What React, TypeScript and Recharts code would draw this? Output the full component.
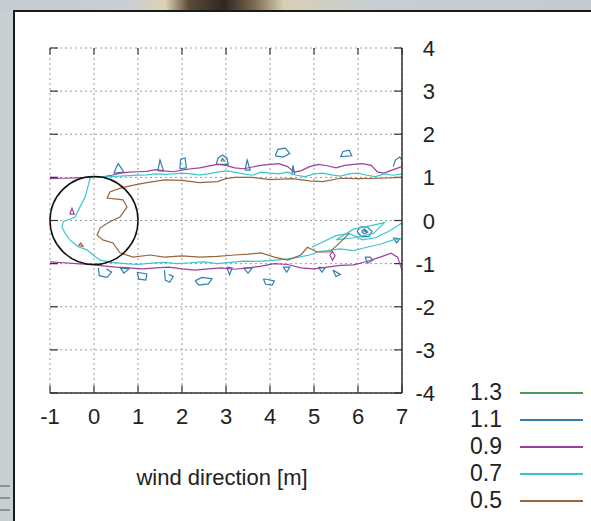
import React from 'react'
import { LineChart, Line, XAxis, YAxis, CartesianGrid, ReferenceDot, ReferenceLine } from 'recharts'

type Pt = [number, number]

const xTicks = [-1, 0, 1, 2, 3, 4, 5, 6, 7]
const yTicks = [-4, -3, -2, -1, 0, 1, 2, 3, 4]

const levels = ['1.3', '1.1', '0.9', '0.7', '0.5']
const levelColors = ['#4a9a5c', '#2f7fae', '#9c3f9e', '#3cc6cc', '#97653d']

// 0.9 contour
const purpleUpper: Pt[] = [
  [-1, 0.97], [-0.7, 0.98], [-0.4, 0.99], [-0.1, 1.0], [0.2, 1.01], [0.4, 1.05], [0.6, 1.1], [0.8, 1.12],
  [1.0, 1.13], [1.2, 1.14], [1.4, 1.18], [1.6, 1.15], [1.8, 1.13], [2.0, 1.17], [2.2, 1.2], [2.4, 1.22],
  [2.6, 1.26], [2.8, 1.3], [3.0, 1.28], [3.2, 1.22], [3.4, 1.2], [3.6, 1.24], [3.8, 1.28], [4.0, 1.3],
  [4.2, 1.32], [4.4, 1.25], [4.55, 1.12], [4.7, 1.15], [4.9, 1.25], [5.1, 1.3], [5.3, 1.27], [5.5, 1.22],
  [5.7, 1.28], [5.9, 1.3], [6.1, 1.32], [6.3, 1.28], [6.45, 1.12], [6.6, 1.1], [6.8, 1.18], [7, 1.25],
]
const purpleLower: Pt[] = [
  [-1, -0.96], [-0.7, -0.98], [-0.4, -1.0], [-0.1, -1.02], [0.2, -1.05], [0.5, -1.08], [0.8, -1.1],
  [1.1, -1.12], [1.4, -1.1], [1.7, -1.08], [2.0, -1.12], [2.3, -1.15], [2.6, -1.12], [2.9, -1.1],
  [3.2, -1.13], [3.5, -1.1], [3.8, -1.06], [4.1, -1.0], [4.4, -1.02], [4.7, -1.1], [5.0, -1.12],
  [5.3, -1.08], [5.6, -1.04], [5.9, -1.03], [6.2, -0.95], [6.5, -0.85], [6.75, -0.76], [6.9, -0.85],
  [6.95, -1.0], [7, -1.15],
]
const purpleLoops: Pt[][] = [
  [[-0.55, 0.15], [-0.5, 0.28], [-0.45, 0.15], [-0.55, 0.15]],
  [[5.36, -0.8], [5.42, -0.72], [5.48, -0.82], [5.42, -0.92], [5.36, -0.8]],
]

// 0.7 contour
const cyanMain: Pt[] = [
  [7, 1.08], [6.8, 1.05], [6.6, 1.08], [6.4, 1.02], [6.2, 1.05], [6.0, 1.1], [5.8, 1.08], [5.6, 1.03],
  [5.4, 1.06], [5.2, 1.1], [5.0, 1.08], [4.8, 1.02], [4.6, 1.05], [4.4, 1.12], [4.2, 1.08], [4.0, 1.1],
  [3.8, 1.12], [3.6, 1.05], [3.4, 1.08], [3.2, 1.12], [3.0, 1.15], [2.8, 1.12], [2.6, 1.08], [2.4, 1.06],
  [2.2, 1.08], [2.0, 1.1], [1.8, 1.08], [1.6, 1.07], [1.4, 1.08], [1.2, 1.06], [1.0, 1.05], [0.8, 1.04],
  [0.6, 1.03], [0.4, 1.02], [0.2, 1.01], [0.0, 1.0], [-0.09, 0.98], [-0.14, 0.78], [-0.2, 0.55],
  [-0.32, 0.31], [-0.43, 0.08], [-0.7, -0.03], [-0.73, -0.15], [-0.66, -0.29], [-0.55, -0.45],
  [-0.36, -0.61], [-0.16, -0.68], [-0.02, -0.8], [0.14, -0.92], [0.4, -0.97], [0.7, -1.0], [1.0, -1.02],
  [1.3, -0.99], [1.6, -0.97], [1.9, -1.0], [2.2, -0.98], [2.5, -0.96], [2.8, -1.0], [3.1, -0.97],
  [3.4, -0.94], [3.7, -0.95], [4.0, -0.93], [4.3, -0.9], [4.6, -0.86], [4.9, -0.8], [5.1, -0.72],
  [5.3, -0.7], [5.6, -0.66], [5.9, -0.7], [6.2, -0.62], [6.5, -0.55], [6.8, -0.45], [7, -0.42],
]
const cyanRight: Pt[] = [
  [4.95, -0.62], [5.2, -0.5], [5.5, -0.35], [5.8, -0.3], [6.1, -0.45], [6.4, -0.4], [6.7, -0.25],
  [6.9, -0.12], [7, -0.05],
]
const cyanLoop: Pt[] = [
  [5.5, -0.45], [5.9, -0.2], [6.3, -0.12], [6.6, -0.05], [6.35, -0.3], [5.9, -0.4], [5.5, -0.45],
]

// 0.5 contour
const brownMain: Pt[] = [
  [7, 1.0], [6.5, 0.98], [6.0, 0.97], [5.6, 0.98], [5.2, 0.9], [4.9, 0.92], [4.5, 0.97], [4.0, 0.95],
  [3.6, 1.0], [3.2, 1.0], [3.0, 0.97], [2.8, 0.9], [2.4, 0.88], [2.0, 0.93], [1.6, 0.94], [1.2, 0.88],
  [0.9, 0.82], [0.6, 0.75], [0.36, 0.66], [0.3, 0.52], [0.66, 0.48], [0.75, 0.31], [0.59, 0.08],
  [0.36, -0.03], [0.14, -0.17], [0.07, -0.34], [0.2, -0.45], [0.43, -0.52], [0.59, -0.75], [0.89, -0.85],
  [1.27, -0.8], [1.6, -0.85], [2.0, -0.82], [2.4, -0.85], [2.8, -0.83], [3.2, -0.8], [3.5, -0.78],
  [3.8, -0.75], [4.1, -0.85], [4.4, -0.92], [4.7, -0.8], [4.85, -0.62], [5.07, -0.73], [5.36, -0.73],
  [5.6, -0.5], [5.8, -0.3],
]
const brownLoops: Pt[][] = [
  [[-0.35, -0.58], [-0.3, -0.52], [-0.25, -0.6], [-0.35, -0.58]],
]

// 1.1 contour
const blueLoops: Pt[][] = [
  [[0.45, 1.1], [0.55, 1.32], [0.68, 1.12], [0.45, 1.1]],
  [[1.45, 1.15], [1.5, 1.4], [1.58, 1.15], [1.45, 1.15]],
  [[1.95, 1.2], [1.97, 1.42], [2.07, 1.45], [2.1, 1.22], [1.95, 1.2]],
  [[2.78, 1.3], [2.82, 1.45], [2.92, 1.52], [3.02, 1.45], [3.05, 1.3], [2.78, 1.3]],
  [[3.43, 1.17], [3.48, 1.4], [3.55, 1.17], [3.43, 1.17]],
  [[4.12, 1.5], [4.18, 1.65], [4.35, 1.68], [4.45, 1.55], [4.3, 1.47], [4.12, 1.5]],
  [[4.5, 1.05], [4.52, 1.28], [4.56, 1.08]],
  [[5.6, 1.48], [5.66, 1.6], [5.8, 1.63], [5.86, 1.5], [5.6, 1.48]],
  [[6.8, 1.25], [6.85, 1.4], [6.95, 1.47], [7.0, 1.4], [7.0, 1.25]],
  [[0.1, -1.1], [0.12, -1.28], [0.3, -1.32], [0.4, -1.2], [0.28, -1.12]],
  [[0.6, -1.1], [0.68, -1.22], [0.8, -1.12], [0.6, -1.1]],
  [[0.98, -1.2], [1.02, -1.36], [1.18, -1.38], [1.2, -1.24], [0.98, -1.2]],
  [[1.6, -1.15], [1.62, -1.38], [1.72, -1.43], [1.8, -1.3], [1.7, -1.25]],
  [[2.3, -1.4], [2.45, -1.32], [2.68, -1.35], [2.6, -1.47], [2.38, -1.5], [2.3, -1.4]],
  [[3.02, -1.08], [3.08, -1.26], [3.14, -1.1], [3.02, -1.08]],
  [[3.4, -1.1], [3.5, -1.22], [3.6, -1.1], [3.4, -1.1]],
  [[3.85, -1.35], [3.9, -1.48], [4.05, -1.5], [4.1, -1.4], [3.85, -1.35]],
  [[4.3, -1.08], [4.38, -1.2], [4.45, -1.08], [4.3, -1.08]],
  [[5.1, -1.08], [5.18, -1.2], [5.25, -1.1], [5.1, -1.08]],
  [[5.43, -1.15], [5.5, -1.3], [5.6, -1.25], [5.43, -1.15]],
  [[6.16, -0.85], [6.22, -0.99], [6.34, -0.92], [6.28, -0.85], [6.16, -0.85]],
  [[5.98, -0.25], [6.05, -0.15], [6.2, -0.14], [6.32, -0.25], [6.25, -0.37], [6.08, -0.38], [5.98, -0.25]],
  [[6.08, -0.25], [6.15, -0.2], [6.22, -0.27], [6.14, -0.31], [6.08, -0.25]],
  [[6.8, -0.4], [6.88, -0.52], [6.95, -0.42], [6.8, -0.4]],
]

// 1.3 contour
const greenLoops: Pt[][] = [
  [[6.12, -0.24], [6.16, -0.21], [6.19, -0.26], [6.12, -0.24]],
  [[2.88, 1.38], [2.92, 1.44], [2.97, 1.38], [2.88, 1.38]],
]

const toRows = (pts: Pt[]) => pts.map(([x, y]) => ({ x, y }))

const series: { color: string; pts: Pt[] }[] = [
  ...greenLoops.map((pts) => ({ color: levelColors[0], pts })),
  ...blueLoops.map((pts) => ({ color: levelColors[1], pts })),
  { color: levelColors[2], pts: purpleUpper },
  { color: levelColors[2], pts: purpleLower },
  ...purpleLoops.map((pts) => ({ color: levelColors[2], pts })),
  { color: levelColors[3], pts: cyanMain },
  { color: levelColors[3], pts: cyanRight },
  { color: levelColors[3], pts: cyanLoop },
  { color: levelColors[4], pts: brownMain },
  ...brownLoops.map((pts) => ({ color: levelColors[4], pts })),
]

const font = '"Liberation Sans", Arial, sans-serif'

const XTick = (props: any) => {
  const { x, y, payload } = props
  return (
    <text x={x} y={y + 31} textAnchor="middle" fontSize={22} fontFamily={font} fill="#222">
      {payload.value}
    </text>
  )
}

const YTick = (props: any) => {
  const { x, y, payload } = props
  return (
    <text x={x + 33} y={y + 8} textAnchor="end" fontSize={22} fontFamily={font} fill="#222">
      {payload.value}
    </text>
  )
}

const tickStroke = '#333'

export default function App() {
  return (
    <div style={{ position: 'absolute', left: 0, top: 0, width: 591, height: 521, overflow: 'hidden', background: '#c7cfd3' }}>
      {/* blurred screenshot strip at the top */}
      <div
        style={{
          position: 'absolute', left: 0, top: 0, width: 591, height: 10,
          background: 'linear-gradient(to right, #c4ccd2 0%, #c9cfd3 22%, #ddd2b4 28%, #5a4a38 32%, #2e2820 38%, #7a6a50 43%, #d8cfb4 48%, #c8ced2 62%, #c3cbd1 100%)',
        }}
      />
      {/* faint menu marks on the left strip */}
      {[485, 497, 509].map((t) => (
        <div key={t} style={{ position: 'absolute', left: 0, top: t, width: 10, height: 2, background: '#8d9499' }} />
      ))}
      <div
        style={{
          position: 'absolute', left: 13, top: 10, width: 580, height: 515,
          background: '#fff', borderLeft: '2px solid #1a1a1a', borderTop: '2px solid #1a1a1a',
        }}
      />
      <div style={{ position: 'absolute', left: 0, top: 0 }}>
        <LineChart width={591} height={521} margin={{ top: 48, right: 139, bottom: 88, left: 50 }}>
          <CartesianGrid stroke="#9a9a9a" strokeDasharray="2 3" />
          <XAxis
            type="number"
            dataKey="x"
            domain={[-1, 7]}
            ticks={xTicks}
            allowDataOverflow
            height={40}
            tickSize={0}
            tickMargin={0}
            tickLine={false}
            axisLine={{ stroke: tickStroke, strokeWidth: 1.5 }}
            tick={<XTick />}
          />
          <YAxis
            type="number"
            dataKey="y"
            orientation="right"
            domain={[-4, 4]}
            ticks={yTicks}
            allowDataOverflow
            width={50}
            tickSize={0}
            tickMargin={0}
            tickLine={false}
            axisLine={{ stroke: tickStroke, strokeWidth: 1.5 }}
            tick={<YTick />}
          />
          {xTicks.map((t) => (
            <ReferenceLine key={`xb${t}`} segment={[{ x: t, y: -4 }, { x: t, y: -3.82 }]} stroke={tickStroke} strokeWidth={1.2} />
          ))}
          {xTicks.map((t) => (
            <ReferenceLine key={`xt${t}`} segment={[{ x: t, y: 4 }, { x: t, y: 3.85 }]} stroke={tickStroke} strokeWidth={1.2} />
          ))}
          {yTicks.map((t) => (
            <ReferenceLine key={`yr${t}`} segment={[{ x: 7, y: t }, { x: 6.82, y: t }]} stroke={tickStroke} strokeWidth={1.2} />
          ))}
          {yTicks.map((t) => (
            <ReferenceLine key={`yl${t}`} segment={[{ x: -1, y: t }, { x: -0.82, y: t }]} stroke={tickStroke} strokeWidth={1.2} />
          ))}
          {series.map((s, i) => (
            <Line
              key={i}
              data={toRows(s.pts)}
              dataKey="y"
              type="linear"
              stroke={s.color}
              strokeWidth={1.2}
              dot={false}
              activeDot={false}
              legendType="none"
              isAnimationActive={false}
            />
          ))}
          <ReferenceDot x={0} y={0} r={44} fill="none" stroke="#111" strokeWidth={1.5} />
        </LineChart>
      </div>
      <div
        style={{
          position: 'absolute', left: 72, top: 465, width: 300, textAlign: 'center',
          fontFamily: font, fontSize: 22, lineHeight: '26px', color: '#222',
        }}
      >
        wind direction [m]
      </div>
      {levels.map((lv, i) => (
        <div key={lv} style={{ position: 'absolute', left: 470, top: 392 + i * 27 - 13, height: 26, width: 120 }}>
          <span style={{ position: 'absolute', left: 0, top: 0, fontFamily: font, fontSize: 23, lineHeight: '26px', color: '#222' }}>
            {lv}
          </span>
          <span style={{ position: 'absolute', left: 50, top: 13, width: 63, height: 1.5, background: levelColors[i] }} />
        </div>
      ))}
    </div>
  )
}
